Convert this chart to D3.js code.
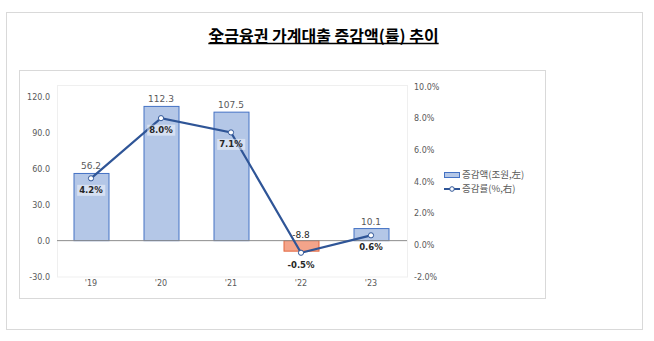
<!DOCTYPE html>
<html><head><meta charset="utf-8">
<script src="https://cdn.jsdelivr.net/npm/d3@7"></script>
<style>
body{margin:0;background:#fff;}
svg{display:block;font-family:"Noto Sans CJK KR","Noto Sans",sans-serif;}
</style></head>
<body>
<svg id="c" width="654" height="341"></svg>
<script>
const title = "全금융권 가계대출 증감액(률) 추이";
const categories = ["'19","'20","'21","'22","'23"];
const amounts = [56.2, 112.3, 107.5, -8.8, 10.1];
const rates = [4.2, 8.0, 7.1, -0.5, 0.6];
const leftTicks = [-30, 0, 30, 60, 90, 120];
const rightTicks = [-2, 0, 2, 4, 6, 8, 10];
const legendLabels = ["증감액(조원,左)", "증감률(%,右)"];

const f1 = v => d3.format(".1f")(v).replace("\u2212","-");

const svg = d3.select("#c");
// outer frame
svg.append("rect").attr("x",6.5).attr("y",12.5).attr("width",636).attr("height",317)
  .attr("fill","#fff").attr("stroke","#d9d9d9");
// chart frame
svg.append("rect").attr("x",19.5).attr("y",70.5).attr("width",526).attr("height",228)
  .attr("fill","#fff").attr("stroke","#d9d9d9");

// title
const t = svg.append("text").attr("x",323.5).attr("y",42).attr("text-anchor","middle")
  .attr("font-size",16).attr("font-weight","bold").attr("fill","#000").text(title);
const tb = t.node().getBBox();
svg.append("line").attr("x1",tb.x).attr("x2",tb.x+tb.width).attr("y1",43.5).attr("y2",43.5)
  .attr("stroke","#000").attr("stroke-width",1.3);

const plot = {x0:57, x1:407, y0:85, y1:276.5};
svg.append("rect").attr("x",plot.x0+0.5).attr("y",plot.y0+0.5)
  .attr("width",plot.x1-plot.x0).attr("height",plot.y1-plot.y0)
  .attr("fill","none").attr("stroke","#efefef");

const x = d3.scaleBand().domain(categories).range([plot.x0-1, plot.x1-1]).paddingInner(0).paddingOuter(0);
const yL = d3.scaleLinear().domain([-30,130]).range([276.5, 85.25]);
const yR = d3.scaleLinear().domain([-2,10]).range([276.5, 86.5]);

const axisFont = g => g.selectAll("text").attr("font-size",8).attr("fill","#595959")
  .attr("font-family","'DejaVu Sans',sans-serif");

svg.append("g").attr("transform","translate(50,0)")
  .call(d3.axisLeft(yL).tickValues(leftTicks).tickSize(0).tickPadding(0).tickFormat(f1))
  .call(g=>g.select(".domain").remove()).call(axisFont);
svg.append("g").attr("transform","translate(414,0)")
  .call(d3.axisRight(yR).tickValues(rightTicks).tickSize(0).tickPadding(0).tickFormat(d=>f1(d)+"%"))
  .call(g=>g.select(".domain").remove()).call(axisFont);
svg.append("g").attr("transform","translate(0,280)")
  .call(d3.axisBottom(x).tickSize(0).tickPadding(0))
  .call(g=>g.select(".domain").remove()).call(axisFont)
  .call(g=>g.selectAll("text").attr("dy","0.71em"));

// bars
const bw = 35;
svg.append("g").selectAll("rect").data(amounts).join("rect")
  .attr("x",(d,i)=>x(categories[i])+x.bandwidth()/2-bw/2+0.5)
  .attr("y",d=>Math.min(yL(d),yL(0)))
  .attr("width",bw)
  .attr("height",d=>Math.abs(yL(d)-yL(0)))
  .attr("fill",d=>d<0?"#f4a48a":"#b4c7e7")
  .attr("stroke",d=>d<0?"#e2673f":"#4472c4").attr("stroke-width",1);

// zero line
svg.append("line").attr("x1",plot.x0).attr("x2",plot.x1).attr("y1",yL(0)).attr("y2",yL(0))
  .attr("stroke","#8c8c8c").attr("stroke-width",1);

// bar labels
svg.append("g").selectAll("text").data(amounts).join("text")
  .attr("x",(d,i)=>x(categories[i])+x.bandwidth()/2)
  .attr("y",d=> d<0 ? yL(0)-3 : yL(d)-4)
  .attr("text-anchor","middle").attr("font-size",9)
  .attr("font-family","'DejaVu Sans',sans-serif")
  .attr("fill",d=>d<0?"#262626":"#595959")
  .text(d=>f1(d));

// line
const cx = i => x(categories[i])+x.bandwidth()/2;
svg.append("path").datum(rates)
  .attr("d", d3.line().x((d,i)=>cx(i)).y(d=>yR(d)))
  .attr("fill","none").attr("stroke","#2f5597").attr("stroke-width",2.2);
svg.append("g").selectAll("circle").data(rates).join("circle")
  .attr("cx",(d,i)=>cx(i)).attr("cy",d=>yR(d)).attr("r",2.6)
  .attr("fill","#fff").attr("stroke","#2f5597").attr("stroke-width",1);

// line labels
const lg = svg.append("g");
rates.forEach((d,i)=>{
  const yy = yR(d)+12;
  const tx = lg.append("text").attr("x",cx(i)).attr("y",yy).attr("dy","0.35em")
    .attr("text-anchor","middle").attr("font-size",8.5).attr("font-weight","bold")
    .attr("font-family","'DejaVu Sans',sans-serif").attr("fill","#262626")
    .text(f1(d)+"%");
  const b = tx.node().getBBox();
  lg.insert("rect","text").attr("x",b.x-2).attr("y",yy-5.5).attr("width",b.width+4).attr("height",11)
    .attr("fill","#fff").attr("opacity",0.45);
});

// legend
const leg = svg.append("g").attr("font-size",9.5).attr("fill","#595959");
leg.append("rect").attr("x",444.5).attr("y",172.5).attr("width",15).attr("height",5)
  .attr("fill","#b4c7e7").attr("stroke","#4472c4");
leg.append("text").attr("x",462).attr("y",175).attr("dy","0.35em").attr("fill","#595959").text(legendLabels[0]);
leg.append("line").attr("x1",444).attr("x2",460).attr("y1",189).attr("y2",189)
  .attr("stroke","#2f5597").attr("stroke-width",2);
leg.append("circle").attr("cx",452).attr("cy",189).attr("r",2.3).attr("fill","#fff").attr("stroke","#2f5597");
leg.append("text").attr("x",462).attr("y",189).attr("dy","0.35em").attr("fill","#595959").text(legendLabels[1]);
</script>
</body></html>
